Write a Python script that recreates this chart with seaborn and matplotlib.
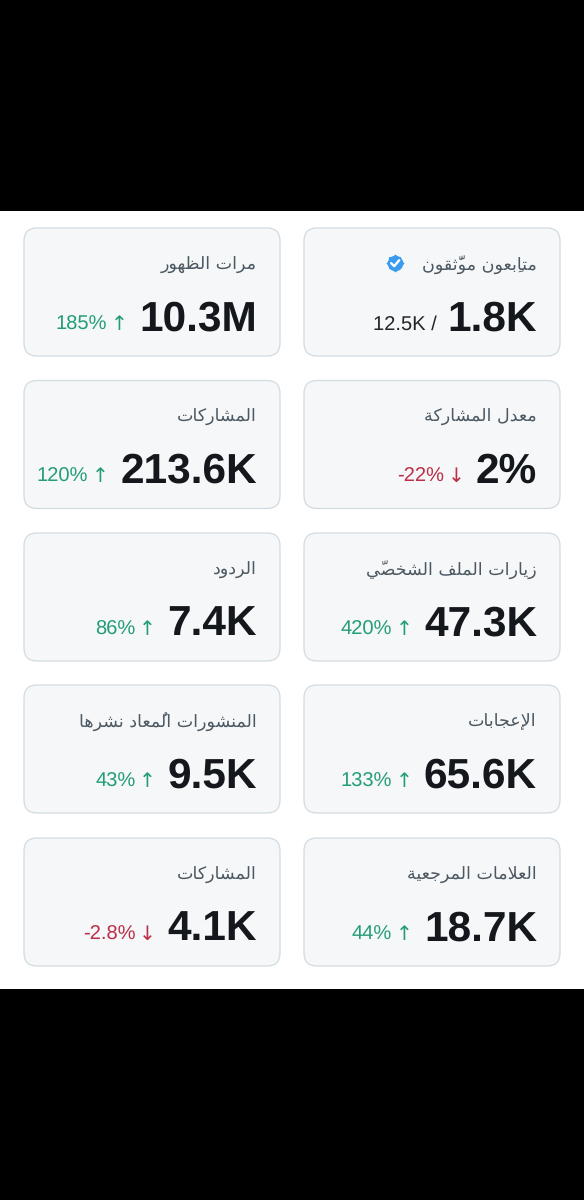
import matplotlib
matplotlib.use("Agg")
import matplotlib.pyplot as plt
from matplotlib.patches import FancyBboxPatch, Rectangle
import seaborn as sns
import pandas as pd

labels = ["متابِعون موثَّقون", "مرات الظهور", "معدل المشاركة", "المشاركات",
          "زيارات الملف الشخصيّ", "الردود", "الإعجابات", "المنشورات المُعاد نشرها",
          "العلامات المرجعية", "المشاركات"]
values = ["1.8K", "10.3M", "2%", "213.6K", "47.3K", "7.4K", "65.6K", "9.5K", "18.7K", "4.1K"]
deltas = ["12.5K /", "185%", "-22%", "120%", "420%", "86%", "133%", "43%", "44%", "-2.8%"]
arrows = ["", "↑", "↓", "↑", "↑", "↑", "↑", "↑", "↑", "↓"]
tones = ["plain", "up", "down", "up", "up", "up", "up", "up", "up", "down"]

ISO_F = {'ا': 0xFE8D, 'أ': 0xFE83, 'إ': 0xFE87, 'آ': 0xFE81, 'د': 0xFEA9, 'ذ': 0xFEAB,
         'ر': 0xFEAD, 'ز': 0xFEAF, 'و': 0xFEED, 'ة': 0xFE93, 'ى': 0xFEEF}
DUAL = {'ب': 0xFE8F, 'ت': 0xFE95, 'ث': 0xFE99, 'ج': 0xFE9D, 'ح': 0xFEA1, 'خ': 0xFEA5,
        'س': 0xFEB1, 'ش': 0xFEB5, 'ص': 0xFEB9, 'ض': 0xFEBD, 'ط': 0xFEC1, 'ظ': 0xFEC5,
        'ع': 0xFEC9, 'غ': 0xFECD, 'ف': 0xFED1, 'ق': 0xFED5, 'ك': 0xFED9, 'ل': 0xFEDD,
        'م': 0xFEE1, 'ن': 0xFEE5, 'ه': 0xFEE9, 'ي': 0xFEF1}
LAM_ALEF = {'ا': 0xFEFB, 'أ': 0xFEF7, 'إ': 0xFEF9, 'آ': 0xFEF5}
MARKS = "\u064B\u064C\u064D\u064E\u064F\u0650\u0651\u0652"


def shape(text):
    """Arabic presentation forms in visual order (matplotlib has no shaping)."""
    clusters = []
    for ch in text:
        if ch in MARKS and clusters:
            clusters[-1][1] += ch
        else:
            clusters.append([ch, ""])
    merged = []
    i = 0
    while i < len(clusters):
        b, m = clusters[i]
        if b == 'ل' and i + 1 < len(clusters) and clusters[i + 1][0] in LAM_ALEF:
            merged.append(["LA" + clusters[i + 1][0], m + clusters[i + 1][1]])
            i += 2
        else:
            merged.append([b, m])
            i += 1
    out = []
    for i, (b, m) in enumerate(merged):
        prev = merged[i - 1][0] if i else " "
        nxt = merged[i + 1][0] if i + 1 < len(merged) else " "
        jp = prev in DUAL
        jn = nxt in DUAL or nxt in ISO_F or nxt.startswith("LA")
        if b.startswith("LA"):
            g = chr(LAM_ALEF[b[2]] + (1 if jp else 0))
        elif b in ISO_F:
            g = chr(ISO_F[b] + (1 if jp else 0))
        elif b in DUAL:
            base = DUAL[b]
            g = chr(base + (3 if jp and jn else 1 if jp else 2 if jn else 0))
        else:
            g = b
        out.append(g + m)
    return "".join(reversed(out))


sns.set_theme(style="white")
plt.rcParams["text.hinting"] = "no_hinting"
plt.rcParams["text.hinting_factor"] = 8
fig = plt.figure(figsize=(5.84, 12), dpi=100, facecolor="black")
ax = fig.add_axes([0, 0, 1, 1])
ax.set_xlim(0, 584)
ax.set_ylim(1200, 0)
ax.axis("off")
ax.add_patch(Rectangle((0, 211), 584, 778, fc="white", ec="none"))

COL_L = [304, 24]
CARD_W = 256
CARD_H = 128
ROW_T = [228, 380.5, 533, 685, 838]
COL = {"up": "#249d76", "down": "#bb2f48", "plain": "#22262a"}
LABEL = "#4c5862"
VALUE = "#14181c"

fig.canvas.draw()
rend = fig.canvas.get_renderer()

for i, (lab, val, dl, arr, tone) in enumerate(zip(labels, values, deltas, arrows, tones)):
    x0 = COL_L[i % 2]
    y0 = ROW_T[i // 2]
    ax.add_patch(FancyBboxPatch((x0 + 12, y0 + 12), CARD_W - 24, CARD_H - 24,
                                boxstyle="round,pad=12,rounding_size=13",
                                fc="#f5f7f8", ec="#d2dbe0", lw=0.9, mutation_aspect=1))
    xr = x0 + CARD_W - 24
    ax.text(xr + 0.5, y0 + 37, shape(lab), ha="right", va="center", fontsize=12.6,
            color=LABEL, family="DejaVu Sans")
    vt = ax.text(xr + 1, y0 + 87, val, ha="right", va="center_baseline", fontsize=30.5,
                 color=VALUE, family="Liberation Sans", weight="bold")
    left = vt.get_window_extent(rend).x0
    if arr:
        ax.text(left - 11.5, y0 + 94, arr, ha="right", va="center_baseline", fontsize=14.5,
                color=COL[tone], family="DejaVu Sans")
        ax.text(left - 32, y0 + 94.5, dl, ha="right", va="center_baseline", fontsize=14.5,
                color=COL[tone], family="Liberation Sans")
    else:
        ax.text(left - 11, y0 + 94.5, dl, ha="right", va="center_baseline", fontsize=14.5,
                color=COL[tone], family="Liberation Sans")

badge = pd.DataFrame({"x": [395.0], "y": [263.0]})
for mk, sz in (("o", 126), ("s", 85), ("D", 85)):
    sns.scatterplot(data=badge, x="x", y="y", ax=ax, s=sz, marker=mk, color="#3a9bf0",
                    linewidth=0, legend=False, zorder=5)
sns.lineplot(x=[391.2, 394.2, 399.2], y=[263.2, 266.2, 260.2], ax=ax, color="white", lw=1.7,
             sort=False, legend=False, zorder=6, errorbar=None, estimator=None)
ax.set_xlim(0, 584)
ax.set_ylim(1200, 0)
ax.axis("off")

fig.savefig("out.png", dpi=100, facecolor="black")
